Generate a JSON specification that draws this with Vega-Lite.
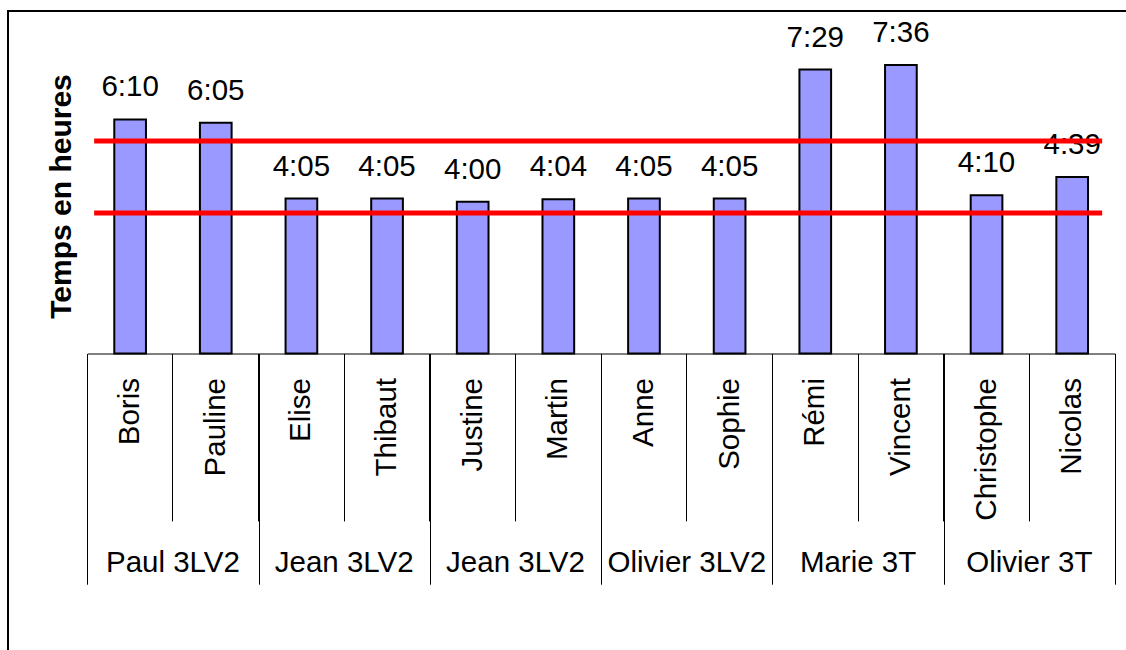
{
  "$schema": "https://vega.github.io/schema/vega-lite/v6.json",
  "autosize": {"type": "none"},
  "padding": {"left": 8, "top": 11, "right": -4, "bottom": -4},
  "width": 1122,
  "height": 643,
  "background": "white",
  "config": {
    "view": {"stroke": "#000000", "strokeWidth": 2, "fill": "white"},
    "font": "Liberation Sans",
    "axis": {"grid": false}
  },
  "datasets": {
    "eleves": [
      {"eleve": "Boris", "groupe": "Paul 3LV2", "heures": 6.1667, "duree": "6:10"},
      {"eleve": "Pauline", "groupe": "Paul 3LV2", "heures": 6.0833, "duree": "6:05"},
      {"eleve": "Elise", "groupe": "Jean 3LV2", "heures": 4.0833, "duree": "4:05"},
      {"eleve": "Thibaut", "groupe": "Jean 3LV2", "heures": 4.0833, "duree": "4:05"},
      {"eleve": "Justine", "groupe": "Jean 3LV2", "heures": 4.0, "duree": "4:00"},
      {"eleve": "Martin", "groupe": "Jean 3LV2", "heures": 4.0667, "duree": "4:04"},
      {"eleve": "Anne", "groupe": "Olivier 3LV2", "heures": 4.0833, "duree": "4:05"},
      {"eleve": "Sophie", "groupe": "Olivier 3LV2", "heures": 4.0833, "duree": "4:05"},
      {"eleve": "Rémi", "groupe": "Marie 3T", "heures": 7.4833, "duree": "7:29"},
      {"eleve": "Vincent", "groupe": "Marie 3T", "heures": 7.6, "duree": "7:36"},
      {"eleve": "Christophe", "groupe": "Olivier 3T", "heures": 4.1667, "duree": "4:10"},
      {"eleve": "Nicolas", "groupe": "Olivier 3T", "heures": 4.65, "duree": "4:39"}
    ],
    "seuils": [
      {"seuil": "haut", "heures": 5.6},
      {"seuil": "bas", "heures": 3.7}
    ],
    "groupes": [
      {"cle": "1|Paul 3LV2"},
      {"cle": "2|Jean 3LV2"},
      {"cle": "3|Jean 3LV2"},
      {"cle": "4|Olivier 3LV2"},
      {"cle": "5|Marie 3T"},
      {"cle": "6|Olivier 3T"}
    ]
  },
  "resolve": {"scale": {"x": "independent"}},
  "layer": [
    {
      "data": {"name": "eleves"},
      "mark": {"type": "bar", "fill": "#9999FF", "stroke": "#000000", "strokeWidth": 2},
      "encoding": {
        "x": {
          "field": "eleve", "type": "nominal", "sort": null,
          "scale": {"type": "band", "range": [79.3, 1107], "paddingInner": 0.63, "paddingOuter": 0.315},
          "axis": {
            "orient": "bottom", "offset": -300.5, "title": null, "ticks": false,
            "domain": true, "domainColor": "#000000", "domainWidth": 1,
            "labelAngle": -90, "labelPadding": 24, "labelFontSize": 29.5,
            "labelColor": "#000000", "labelFont": "Liberation Sans", "labelLimit": 400, "grid": false
          }
        },
        "y": {
          "field": "heures", "type": "quantitative",
          "scale": {"domain": [0, 8], "range": [342.5, 38.9], "nice": false, "zero": true},
          "axis": {
            "orient": "left", "offset": -79.3, "title": "Temps en heures",
            "labels": false, "ticks": false, "domain": false, "grid": false,
            "titleFontSize": 30, "titleFontWeight": "bold", "titleColor": "#000000",
            "titleFont": "Liberation Sans", "titlePadding": 11, "titleY": 185
          }
        }
      }
    },
    {
      "data": {"name": "eleves"},
      "mark": {"type": "text", "fontSize": 29.5, "font": "Liberation Sans", "color": "#000000", "baseline": "alphabetic", "dy": -23},
      "encoding": {
        "x": {
          "field": "eleve", "type": "nominal", "sort": null,
          "scale": {"type": "band", "range": [79.3, 1107], "paddingInner": 0, "paddingOuter": 0},
          "axis": {
            "orient": "bottom", "offset": -300.5, "title": null, "labels": false,
            "domain": false, "ticks": true, "bandPosition": 1, "tickExtra": true,
            "tickSize": 167.4, "tickColor": "#000000", "tickWidth": 1, "grid": false
          }
        },
        "y": {"field": "heures", "type": "quantitative", "title": "Temps en heures"},
        "text": {"field": "duree"}
      }
    },
    {
      "data": {"name": "seuils"},
      "mark": {"type": "rule", "color": "#FF0000", "strokeWidth": 5},
      "encoding": {
        "x": {
          "datum": 0.08, "type": "quantitative",
          "scale": {"domain": [0, 12], "range": [79.3, 1107], "nice": false, "zero": false},
          "axis": {
            "orient": "bottom", "offset": -300.5, "title": null,
            "values": [0, 2, 4, 6, 8, 10, 12], "labels": false, "domain": false,
            "ticks": true, "tickSize": 230.7, "tickColor": "#000000", "tickWidth": 1, "grid": false
          }
        },
        "x2": {"datum": 11.85},
        "y": {"field": "heures", "type": "quantitative", "title": "Temps en heures"}
      }
    },
    {
      "data": {"name": "groupes"},
      "mark": {"type": "text", "opacity": 0},
      "encoding": {
        "x": {
          "field": "cle", "type": "nominal", "sort": null,
          "scale": {"type": "band", "range": [79.3, 1107], "paddingInner": 0, "paddingOuter": 0},
          "axis": {
            "orient": "bottom", "offset": -300.5, "title": null, "ticks": false, "domain": false,
            "labelExpr": "split(datum.label, '|')[1]", "labelAngle": 0,
            "labelPadding": 218.2, "labelBaseline": "alphabetic", "labelFontSize": 29.5,
            "labelColor": "#000000", "labelFont": "Liberation Sans", "labelLimit": 400, "grid": false
          }
        },
        "text": {"field": "cle"}
      }
    }
  ]
}
